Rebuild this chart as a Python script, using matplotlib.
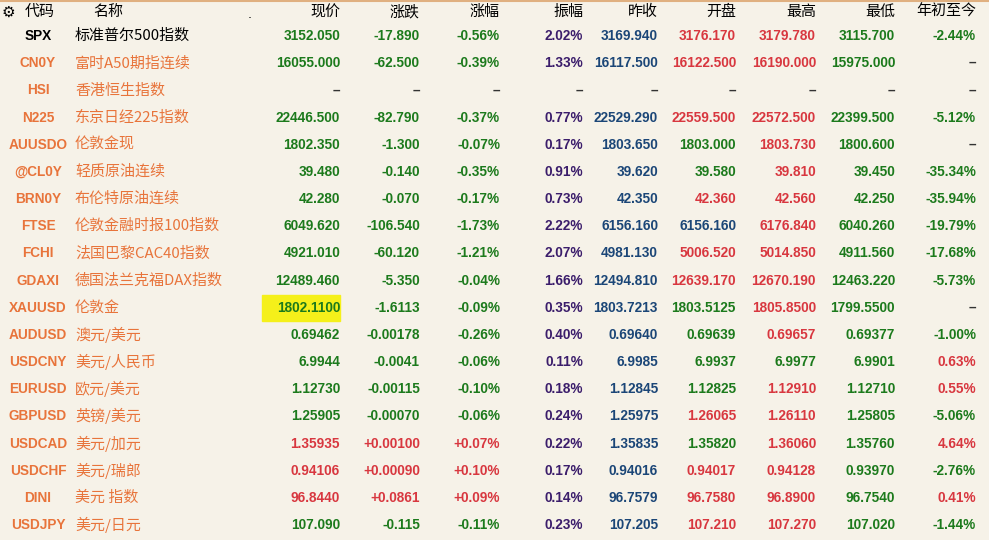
import matplotlib
matplotlib.use("Agg")
import matplotlib.pyplot as plt
from matplotlib.patches import Rectangle

headers = ["代码", "名称", "现价", "涨跌", "涨幅", "振幅", "昨收", "开盘", "最高", "最低", "年初至今"]
codes = ["SPX", "CN0Y", "HSI", "N225", "AUUSDO", "@CL0Y", "BRN0Y", "FTSE", "FCHI", "GDAXI", "XAUUSD",
         "AUDUSD", "USDCNY", "EURUSD", "GBPUSD", "USDCAD", "USDCHF", "DINI", "USDJPY"]
names = ["标准普尔500指数", "富时A50期指连续", "香港恒生指数", "东京日经225指数", "伦敦金现", "轻质原油连续",
         "布伦特原油连续", "伦敦金融时报100指数", "法国巴黎CAC40指数", "德国法兰克福DAX指数", "伦敦金",
         "澳元/美元", "美元/人民币", "欧元/美元", "英镑/美元", "美元/加元", "美元/瑞郎", "美元 指数", "美元/日元"]
last = ["3152.050", "16055.000", "–", "22446.500", "1802.350", "39.480", "42.280", "6049.620", "4921.010",
        "12489.460", "1802.1100", "0.69462", "6.9944", "1.12730", "1.25905", "1.35935", "0.94106", "96.8440", "107.090"]
change = ["-17.890", "-62.500", "–", "-82.790", "-1.300", "-0.140", "-0.070", "-106.540", "-60.120", "-5.350",
          "-1.6113", "-0.00178", "-0.0041", "-0.00115", "-0.00070", "+0.00100", "+0.00090", "+0.0861", "-0.115"]
pct = ["-0.56%", "-0.39%", "–", "-0.37%", "-0.07%", "-0.35%", "-0.17%", "-1.73%", "-1.21%", "-0.04%",
       "-0.09%", "-0.26%", "-0.06%", "-0.10%", "-0.06%", "+0.07%", "+0.10%", "+0.09%", "-0.11%"]
amp = ["2.02%", "1.33%", "–", "0.77%", "0.17%", "0.91%", "0.73%", "2.22%", "2.07%", "1.66%", "0.35%",
       "0.40%", "0.11%", "0.18%", "0.24%", "0.22%", "0.17%", "0.14%", "0.23%"]
prev = ["3169.940", "16117.500", "–", "22529.290", "1803.650", "39.620", "42.350", "6156.160", "4981.130",
        "12494.810", "1803.7213", "0.69640", "6.9985", "1.12845", "1.25975", "1.35835", "0.94016", "96.7579", "107.205"]
open_ = ["3176.170", "16122.500", "–", "22559.500", "1803.000", "39.580", "42.360", "6156.160", "5006.520",
         "12639.170", "1803.5125", "0.69639", "6.9937", "1.12825", "1.26065", "1.35820", "0.94017", "96.7580", "107.210"]
high = ["3179.780", "16190.000", "–", "22572.500", "1803.730", "39.810", "42.560", "6176.840", "5014.850",
        "12670.190", "1805.8500", "0.69657", "6.9977", "1.12910", "1.26110", "1.36060", "0.94128", "96.8900", "107.270"]
low = ["3115.700", "15975.000", "–", "22399.500", "1800.600", "39.450", "42.250", "6040.260", "4911.560",
       "12463.220", "1799.5500", "0.69377", "6.9901", "1.12710", "1.25805", "1.35760", "0.93970", "96.7540", "107.020"]
ytd = ["-2.44%", "–", "–", "-5.12%", "–", "-35.34%", "-35.94%", "-19.79%", "-17.68%", "-5.73%", "–",
       "-1.00%", "0.63%", "0.55%", "-5.06%", "4.64%", "-2.76%", "0.41%", "-1.44%"]

BG = "#f6f2e8"; RED = "#d8373f"; GREEN = "#1c7a1c"; BLUE = "#1b4677"; PURPLE = "#3b1d6b"
ORANGE = "#e8743b"; DARK = "#333333"

def sign_color(s):
    if s == "–": return DARK
    v = float(s.replace("%", ""))
    return RED if v > 0 else (GREEN if v < 0 else BLUE)

def cmp_color(s, ref):
    if s == "–": return DARK
    a, b = float(s), float(ref)
    return RED if a > b else (GREEN if a < b else BLUE)

fig = plt.figure(figsize=(9.89, 5.4), dpi=100, facecolor=BG)
ax = fig.add_axes([0, 0, 1, 1])
ax.set_xlim(0, 989); ax.set_ylim(540, 0); ax.axis("off")
ax.add_patch(Rectangle((0, 0), 989, 540, color=BG, zorder=0))
ax.plot([0, 989], [1, 1], color="#e0b080", lw=1.5)

cjk = ["Noto Sans CJK SC", "DejaVu Sans"]
num = dict(family="Liberation Sans", weight="bold", fontsize=9.8)

# header
ax.text(8, 12, "⚙", fontsize=11, va="center", ha="center", family="DejaVu Sans", color="black")
ax.text(40, 12, headers[0], family=cjk, fontsize=10.8, ha="center", va="center", color="black")
ax.text(108, 12, headers[1], family=cjk, fontsize=10.8, ha="center", va="center", color="black")
ax.text(250, 14, ".", fontsize=9, ha="center", va="center", color="black")
col_right = [340, 420, 500, 583, 658, 736, 816, 895, 976]
for h, x in zip(headers[2:], col_right):
    ax.text(x, 12, h, family=cjk, fontsize=10.8, ha="right", va="center", color="black")

y0, dy = 36, 27.17
for i in range(len(codes)):
    y = y0 + i * dy
    c = "black" if i == 0 else ORANGE
    ax.text(38, y, codes[i], ha="center", va="center", color=c, **num)
    ax.text(75, y, names[i], family=cjk, fontsize=10.8, ha="left", va="center", color=c)
    if codes[i] == "XAUUSD":
        ax.add_patch(Rectangle((262, y - 13), 78, 26, color="#f5f01a", zorder=1))
    vals = [last[i], change[i], pct[i], amp[i], prev[i], open_[i], high[i], low[i], ytd[i]]
    cols = [sign_color(change[i]), sign_color(change[i]), sign_color(change[i]),
            PURPLE if amp[i] != "–" else DARK, BLUE if prev[i] != "–" else DARK,
            cmp_color(open_[i], prev[i]), cmp_color(high[i], prev[i]), cmp_color(low[i], prev[i]),
            sign_color(ytd[i])]
    for v, x, cc in zip(vals, col_right, cols):
        ax.text(x, y, v, ha="right", va="center", color=cc, zorder=2, **num)

fig.savefig("out.png", dpi=100, facecolor=BG)
